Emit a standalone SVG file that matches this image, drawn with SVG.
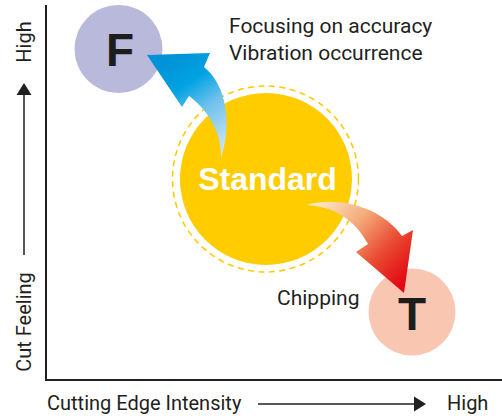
<svg xmlns="http://www.w3.org/2000/svg" width="502" height="418" viewBox="0 0 502 418">
  <style>
    .lbl { font-family: Roboto, "Liberation Sans", sans-serif; fill: #231f20; }
    .big { font-family: "Liberation Sans", Arial, sans-serif; font-weight: bold; }
    .axis { stroke: #231f20; fill: none; }
  </style>
  <defs>
    <linearGradient id="gBlue" gradientUnits="userSpaceOnUse" x1="222" y1="155" x2="160" y2="62">
      <stop offset="0" stop-color="#d2e8f8"/>
      <stop offset="0.45" stop-color="#6cc0ec"/>
      <stop offset="0.7" stop-color="#00a3e2"/>
      <stop offset="1" stop-color="#0091d6"/>
    </linearGradient>
    <linearGradient id="gRed" gradientUnits="userSpaceOnUse" x1="312" y1="200" x2="402" y2="285">
      <stop offset="0" stop-color="#fff1cf"/>
      <stop offset="0.4" stop-color="#f4a878"/>
      <stop offset="0.7" stop-color="#e94b32"/>
      <stop offset="1" stop-color="#e30613"/>
    </linearGradient>
  </defs>

  <g id="axes">
    <line class="axis" x1="46" y1="5" x2="46" y2="381" stroke-width="2"/>
    <line class="axis" x1="45" y1="380" x2="502" y2="380" stroke-width="2"/>
    <line class="axis" x1="24" y1="94" x2="24" y2="255" stroke-width="1.5"/>
    <polygon points="24,83 16.5,95 31.5,95" fill="#231f20"/>
    <line class="axis" x1="258" y1="404" x2="416" y2="404" stroke-width="1.5"/>
    <polygon points="426,404 414,396.5 414,411.5" fill="#231f20"/>
    <text class="lbl" font-size="20" transform="translate(31,42) rotate(-90)" text-anchor="middle">High</text>
    <text class="lbl" font-size="20" transform="translate(31,322) rotate(-90)" text-anchor="middle">Cut Feeling</text>
    <text class="lbl" font-size="20" x="47" y="410">Cutting Edge Intensity</text>
    <text class="lbl" font-size="20" x="447" y="410">High</text>
  </g>

  <g id="node-F">
    <circle cx="118.5" cy="49" r="44" fill="#b9b9dc"/>
    <text class="big" x="120" y="66" font-size="46" text-anchor="middle" fill="#1d1d1b">F</text>
  </g>

  <g id="node-standard">
    <circle cx="265.5" cy="179" r="93" fill="none" stroke="#ffcc00" stroke-width="1.6" stroke-dasharray="6 4.5"/>
    <circle cx="266" cy="179" r="86" fill="#ffcc00"/>
    <text class="big" x="267.5" y="190" font-size="32" text-anchor="middle" fill="#ffffff">Standard</text>
  </g>

  <g id="node-T">
    <circle cx="412" cy="312" r="43.5" fill="#f9c6b1"/>
    <text class="big" x="412" y="330" font-size="46" text-anchor="middle" fill="#1d1d1b">T</text>
  </g>

  <g id="connectors">
    <path d="M221,158 C232,125 227,85 204,67 L210,53 L147,55 L182,107 L189,96 C205,108 222,130 221,158 Z" fill="url(#gBlue)"/>
    <path d="M307,205 C335,196 380,205 402,236 L413,230 L404,293 L356,252 L368,244 C355,220 335,207 307,205 Z" fill="url(#gRed)"/>
  </g>

  <g id="labels">
    <text class="lbl" font-size="21" x="229" y="33">Focusing on accuracy</text>
    <text class="lbl" font-size="21" x="229" y="60">Vibration occurrence</text>
    <text class="lbl" font-size="21" x="277" y="305">Chipping</text>
  </g>
</svg>
